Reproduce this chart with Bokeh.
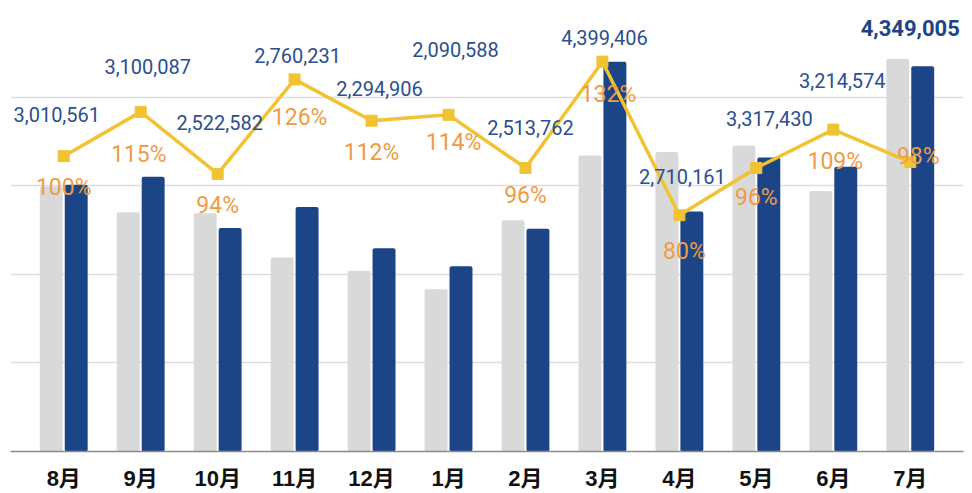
from bokeh.plotting import figure
from bokeh.models import ColumnDataSource, FactorRange, Range1d, FixedTicker
from bokeh.transform import dodge
from bokeh.core.properties import value
from bokeh.embed import file_html
from bokeh.resources import INLINE

# ---- data ----
months = ["8月", "9月", "10月", "11月", "12月", "1月", "2月", "3月", "4月", "5月", "6月", "7月"]
current = [3010561, 3100087, 2522582, 2760231, 2294906, 2090588, 2513762, 4399406, 2710161, 3317430, 3214574, 4349005]
previous = [2990000, 2700000, 2690000, 2190000, 2040000, 1830000, 2610000, 3340000, 3380000, 3450000, 2940000, 4430000]
ratio = [100, 115, 94, 126, 112, 114, 96, 132, 80, 96, 109, 98]

# ---- label nudges (screen px) ----
val_dx = [-7, 7, 2, 3, 8, 7, 5, 2, 3, 13, 9]
val_dy = [-42, -45, -51, -24, -32, -65, -40, -24, -39, -49, -49]
pct_dx = [0, -2, 0, 5, 0, 5, 0, 6, 5, 0, 2, 8]
pct_dy = [31, 43, 32, 38, 32, 28, 28, 33, 36, 30, 32, -6]

BLUE = "#1c4587"
GRAY = "#d9d9d9"
YELLOW = "#f1c232"
VAL_C = "#2b4f8f"
PCT_C = "#ef9c44"

src = ColumnDataSource(dict(
    m=months, cur=current, prev=previous, ratio=ratio,
    pct=[f"{r}%" for r in ratio], pdx=pct_dx, pdy=pct_dy,
))
vsrc = ColumnDataSource(dict(
    m=months[:-1], ratio=ratio[:-1], txt=[f"{v:,}" for v in current[:-1]],
    dx=val_dx, dy=val_dy,
))
lsrc = ColumnDataSource(dict(m=months[-1:], cur=current[-1:], txt=[f"{current[-1]:,}"]))

p = figure(width=972, height=493, x_range=FactorRange(factors=months, range_padding=0.032),
           y_range=Range1d(0, 5000000), output_backend="svg", toolbar_location=None,
           min_border_left=10, min_border_right=9, min_border_top=8, min_border_bottom=0)
p.extra_y_ranges = {"r": Range1d(0, 150)}
p.outline_line_color = None
p.background_fill_color = "white"
p.border_fill_color = "white"

p.vbar(x=dodge("m", -0.162, range=p.x_range), top="prev", width=0.298, source=src,
       fill_color=GRAY, line_color=None, border_radius=2)
p.vbar(x=dodge("m", 0.162, range=p.x_range), top="cur", width=0.298, source=src,
       fill_color=BLUE, line_color=None, border_radius=2)

p.line(x="m", y="ratio", source=src, y_range_name="r", line_color=YELLOW, line_width=3.5)
p.scatter(x="m", y="ratio", source=src, y_range_name="r", marker="square", size=11,
          fill_color=YELLOW, line_color=YELLOW)

p.text(x="m", y="ratio", text="txt", source=vsrc, y_range_name="r", x_offset="dx", y_offset="dy",
       text_align="center", text_baseline="middle", text_color=VAL_C,
       text_font=value("Roboto"), text_font_size="20px")
p.text(x="m", y="cur", text="txt", source=lsrc, y_offset=-38,
       text_align="center", text_baseline="middle", text_color=BLUE,
       text_font=value("Roboto"), text_font_size="22px", text_font_style="bold")
p.text(x="m", y="ratio", text="pct", source=src, y_range_name="r", x_offset="pdx", y_offset="pdy",
       text_align="center", text_baseline="middle", text_color=PCT_C,
       text_font=value("Roboto"), text_font_size="23px")

p.xgrid.visible = False
p.ygrid.ticker = FixedTicker(ticks=[1000000, 2000000, 3000000, 4000000, 5000000])
p.ygrid.grid_line_color = "#dddddd"
p.ygrid.grid_line_width = 1.5
p.yaxis.visible = False

ax = p.xaxis[0]
ax.axis_line_color = "#8a8a8a"
ax.axis_line_width = 1.5
ax.major_tick_line_color = None
ax.minor_tick_line_color = None
ax.major_tick_out = 0
ax.major_tick_in = 0
ax.minor_tick_out = 0
ax.major_label_standoff = 14
ax.major_label_text_line_height = 0.8
ax.major_label_text_font = "Liberation Sans, Noto Sans CJK JP"
ax.major_label_text_font_size = "22px"
ax.major_label_text_font_style = "bold"
ax.major_label_text_color = "#111111"

open("out.html", "w").write(file_html(p, INLINE))
